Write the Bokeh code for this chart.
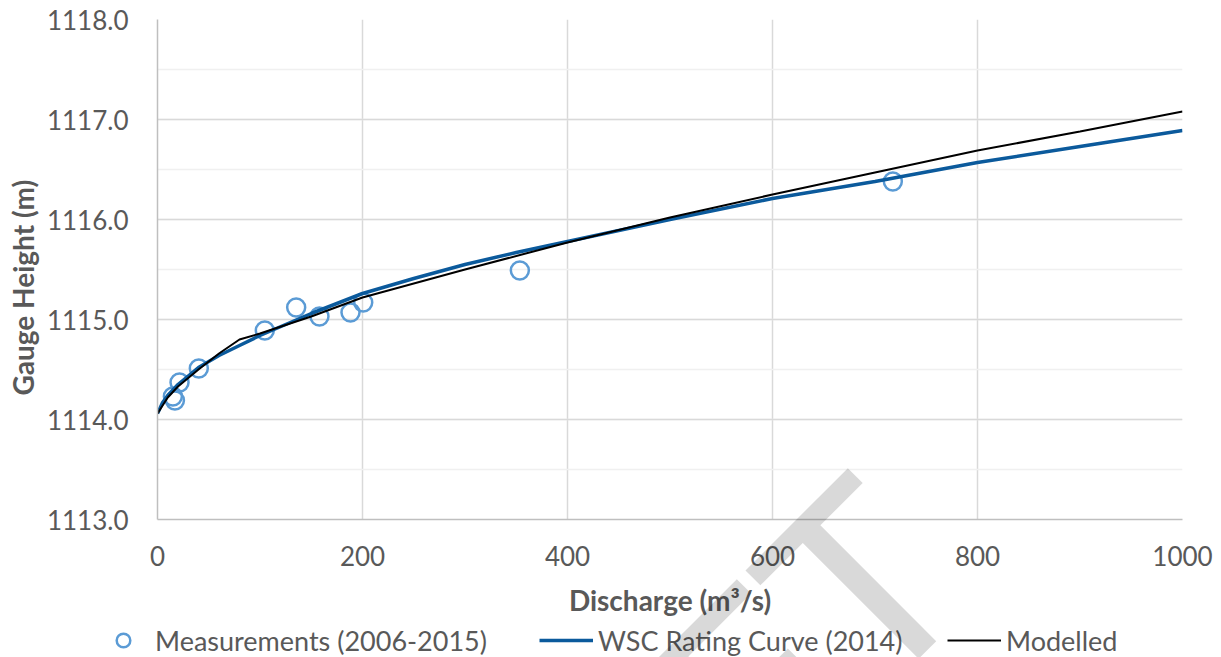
import math
from bokeh.plotting import figure
from bokeh.models import (Range1d, SingleIntervalTicker, NumeralTickFormatter,
                          Legend, LegendItem, Label, Title)
from bokeh.embed import file_html
from bokeh.resources import INLINE

# ---- data ----
meas_q = [15, 17, 21.5, 40.3, 104.7, 135.3, 158, 188.3, 200.7, 353.5, 717.4]
meas_h = [1114.23, 1114.19, 1114.37, 1114.51, 1114.89, 1115.12, 1115.03,
          1115.07, 1115.17, 1115.49, 1116.38]

wsc_q = [0, 5, 10, 20, 40, 60, 80, 100, 150, 200, 250, 300, 350, 400, 500,
         600, 700, 800, 900, 1000]
wsc_h = [1114.06, 1114.17, 1114.24, 1114.35, 1114.52, 1114.64, 1114.74,
         1114.84, 1115.06, 1115.26, 1115.41, 1115.55, 1115.67, 1115.78,
         1116.00, 1116.21, 1116.38, 1116.57, 1116.73, 1116.89]

mod_q = [0, 10, 20, 40, 60, 80, 100, 150, 200, 300, 400, 500, 600, 700, 800,
         900, 1000]
mod_h = [1114.06, 1114.22, 1114.33, 1114.50, 1114.66, 1114.80, 1114.86,
         1115.03, 1115.22, 1115.50, 1115.77, 1116.02, 1116.25, 1116.47,
         1116.69, 1116.88, 1117.08]

labels = ["Measurements (2006-2015)", "WSC Rating Curve (2014)", "Modelled"]

FONT = "Lato"
TXT = "#595959"
C_MEAS = "#5b9bd5"
C_WSC = "#0b5a9c"
C_MOD = "black"

# ---------------- main chart ----------------
p = figure(width=1221, height=620, output_backend="svg", toolbar_location=None,
           x_range=Range1d(0, 1000), y_range=Range1d(1113, 1118),
           min_border_left=157, min_border_right=39, min_border_top=19,
           min_border_bottom=101)
p.outline_line_color = None
p.background_fill_color = "white"
p.border_fill_color = "white"

p.xaxis.ticker = SingleIntervalTicker(interval=200, num_minor_ticks=0)
p.yaxis.ticker = SingleIntervalTicker(interval=1, num_minor_ticks=2)
p.yaxis.formatter = NumeralTickFormatter(format="0.0")
for ax in (p.xaxis, p.yaxis):
    ax.major_tick_line_color = None
    ax.minor_tick_line_color = None
    ax.major_tick_out = 0
    ax.major_tick_in = 0
    ax.minor_tick_out = 0
    ax.minor_tick_in = 0
    ax.axis_line_color = "#bfbfbf"
    ax.axis_line_width = 1.5
    ax.major_label_text_font = FONT
    ax.major_label_text_font_size = "26px"
    ax.major_label_text_color = TXT
    ax.axis_label_text_font = FONT
    ax.axis_label_text_font_style = "bold"
    ax.axis_label_text_color = TXT
p.xaxis.axis_label = "Discharge (m³/s)"
p.xaxis.axis_label_text_font_size = "28px"
p.xaxis.major_label_standoff = 26
p.yaxis.major_label_standoff = 29
p.xaxis.axis_label_standoff = 14

ytitle = Title(text="Gauge Height (m)", align="left", offset=124,
               text_font=FONT, text_font_size="28px", text_font_style="bold",
               text_color=TXT, standoff=7)
p.add_layout(ytitle, "left")

p.xgrid.grid_line_color = "#d9d9d9"
p.xgrid.grid_line_width = 1.5
p.ygrid.grid_line_color = "#d9d9d9"
p.ygrid.grid_line_width = 1.5
p.ygrid.minor_grid_line_color = "#f0f0f0"
p.ygrid.minor_grid_line_width = 1.5

p.scatter(meas_q, meas_h, marker="circle", size=18, fill_color=None,
          line_color=C_MEAS, line_width=2.5)
p.line(wsc_q, wsc_h, line_color=C_WSC, line_width=3.5)
p.line(mod_q, mod_h, line_color=C_MOD, line_width=2)

# ---------------- legend strip (separate root below the chart) ----------------
lf = figure(width=1221, height=37, output_backend="svg", toolbar_location=None,
            x_range=Range1d(0, 1), y_range=Range1d(0, 1),
            min_border=0, x_axis_type=None, y_axis_type=None)
lf.outline_line_color = None
lf.xgrid.visible = False
lf.ygrid.visible = False
lf.border_fill_color = "white"
# legend-only renderers, kept outside the visible range
l_meas = lf.scatter([-5], [-5], marker="circle", size=18, fill_color=None,
                    line_color=C_MEAS, line_width=2.5)
l_wsc = lf.line([-6, -5], [-5, -5], line_color=C_WSC, line_width=3.5)
l_mod = lf.line([-6, -5], [-5, -5], line_color=C_MOD, line_width=2)

locs = [(96, 0), (539, 0), (947, 0)]
for rend, lab, loc in zip([l_meas, l_wsc, l_mod], labels, locs):
    lg = Legend(items=[LegendItem(label=lab, renderers=[rend])], location=loc,
                orientation="horizontal", glyph_width=54, glyph_height=34,
                label_standoff=5, padding=0, margin=0, spacing=0,
                border_line_color=None, background_fill_alpha=0,
                label_text_font=FONT, label_text_font_size="27px",
                label_text_color=TXT, label_height=34)
    lf.add_layout(lg)

# ---------------- watermark overlay (absolute, over the whole page) ----------------
wf = figure(width=1221, height=657, output_backend="svg", toolbar_location=None,
            x_range=Range1d(0, 1221), y_range=Range1d(0, 657),
            min_border=0, x_axis_type=None, y_axis_type=None,
            styles={"position": "absolute", "top": "0px", "left": "0px",
                    "pointer-events": "none", "z-index": "10"},
            stylesheets=[":host { position: absolute !important; top: 0px !important;"
                         " left: 0px !important; pointer-events: none; z-index: 10; }"])
wf.outline_line_color = None
wf.xgrid.visible = False
wf.ygrid.visible = False
wf.background_fill_alpha = 0
wf.border_fill_alpha = 0
wf.add_layout(Label(x=910, y=132, text="DRAFT", angle=math.pi / 4,
                    text_font=FONT, text_font_size="258px", text_color="black",
                    text_alpha=0.15, text_align="right",
                    text_baseline="alphabetic"))

open("out.html", "w").write(file_html([p, lf, wf], INLINE))
